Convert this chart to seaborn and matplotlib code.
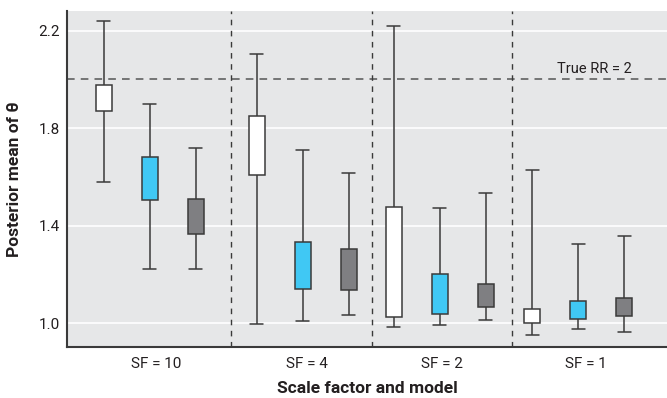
import numpy as np
import pandas as pd
import matplotlib
matplotlib.use("Agg")
import matplotlib.pyplot as plt
import seaborn as sns

# --- data ---
groups = ["SF = 10", "SF = 4", "SF = 2", "SF = 1"]
models = ["model 1", "model 2", "model 3"]

white_lo = [1.578, 0.995, 0.984, 0.950]
white_q1 = [1.871, 1.608, 1.026, 0.999]
white_q3 = [1.978, 1.848, 1.477, 1.059]
white_hi = [2.240, 2.106, 2.220, 1.629]

cyan_lo = [1.220, 1.007, 0.992, 0.975]
cyan_q1 = [1.507, 1.139, 1.037, 1.018]
cyan_q3 = [1.682, 1.334, 1.201, 1.091]
cyan_hi = [1.900, 1.711, 1.473, 1.325]

gray_lo = [1.223, 1.032, 1.012, 0.963]
gray_q1 = [1.366, 1.135, 1.067, 1.027]
gray_q3 = [1.510, 1.305, 1.161, 1.104]
gray_hi = [1.719, 1.617, 1.535, 1.356]

true_rr = 2.0

# --- layout (x in "box slot" units) ---
group_centers = [1.8, 5.13, 8.11, 11.12]
model_offsets = [-1, 0, 1]
separators = [3.57, 6.63, 9.67]
label_pos = [1.93, 5.22, 8.15, 11.28]
colors = {"model 1": "#ffffff", "model 2": "#40c8f4", "model 3": "#7f7f82"}

stats = {
    "model 1": (white_lo, white_q1, white_q3, white_hi),
    "model 2": (cyan_lo, cyan_q1, cyan_q3, cyan_hi),
    "model 3": (gray_lo, gray_q1, gray_q3, gray_hi),
}

# five points per box: min, q1, q1 (median, hidden), q3, max
rows = []
for i, m in enumerate(models):
    lo, q1, q3, hi = stats[m]
    for j, g in enumerate(groups):
        pos = group_centers[j] + model_offsets[i]
        for v in [lo[j], q1[j], q1[j], q3[j], hi[j]]:
            rows.append({"pos": pos, "model": m, "group": g, "value": v})
df = pd.DataFrame(rows)

sns.set_style("darkgrid", {"axes.facecolor": "#e6e7e8", "grid.color": "white"})
plt.rcParams["font.family"] = ["Roboto", "DejaVu Sans"]

fig = plt.figure(figsize=(6.67, 3.98), dpi=100)
ax = fig.add_axes([0.1005, 0.128, 0.8995, 0.844])

sns.boxplot(data=df, x="pos", y="value", hue="model", native_scale=True,
            dodge=False, palette=colors, saturation=1, width=0.35,
            whis=np.inf, linecolor="#3a3a3a", linewidth=1.1,
            medianprops=dict(linewidth=0), capwidths=0.28,
            legend=False, ax=ax)

ax.axhline(true_rr, color="#555555", ls=(0, (5, 4)), lw=1.1, zorder=1)
for s in separators:
    ax.axvline(s, color="#3a3a3a", ls=(0, (4, 4)), lw=1.0, zorder=1)
ax.text(11.46, true_rr + 0.012, "True RR = 2", ha="center", va="bottom",
        fontsize=10.5, color="#231f20")

ax.set_xlim(0, 13.05)
ax.set_ylim(0.9015, 2.28)
ax.set_yticks([1.0, 1.4, 1.8, 2.2])
ax.set_yticklabels(["1.0", "1.4", "1.8", "2.2"])
ax.set_xticks(label_pos)
ax.set_xticklabels(groups)
ax.grid(axis="x", visible=False)
ax.grid(axis="y", color="white", lw=1.2)
ax.set_axisbelow(True)
ax.tick_params(axis="both", length=0, labelsize=11, colors="#231f20")
ax.tick_params(axis="y", pad=5)
ax.tick_params(axis="x", pad=7)

for side in ["top", "right"]:
    ax.spines[side].set_visible(False)
for side in ["left", "bottom"]:
    ax.spines[side].set_visible(True)
    ax.spines[side].set_color("#3a3a3a")
    ax.spines[side].set_linewidth(1.5)

ax.set_xlabel("Scale factor and model", fontsize=12.5, fontweight="bold",
              labelpad=7, color="#231f20")
ax.set_ylabel("Posterior mean of θ", fontsize=12.5, fontweight="bold",
              labelpad=12, color="#231f20")

fig.savefig("out.png", dpi=100)
